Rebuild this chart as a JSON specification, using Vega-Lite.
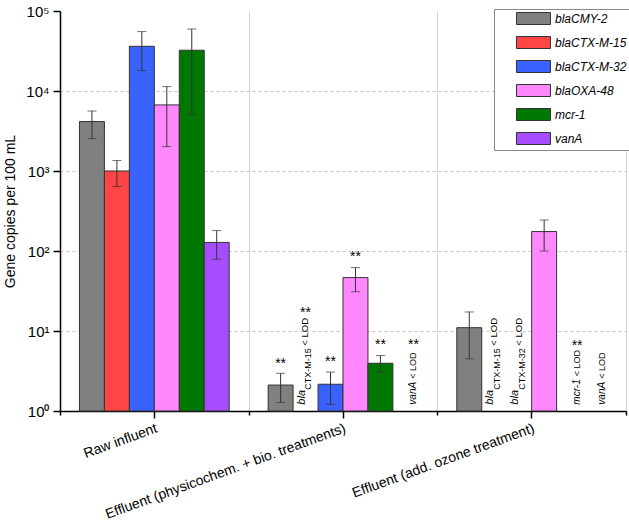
{
  "$schema": "https://vega.github.io/schema/vega-lite/v6.json",
  "width": 566,
  "height": 400,
  "padding": {"left": 3, "top": 4, "right": 0, "bottom": 0},
  "config": {"font": "Liberation Sans", "view": {"stroke": null}},
  "datasets": {
    "bars": [
      {"group": "Raw influent", "gene": "blaCMY-2", "value": 4150, "lo": 2540, "hi": 5620},
      {"group": "Raw influent", "gene": "blaCTX-M-15", "value": 1000, "lo": 640, "hi": 1350},
      {"group": "Raw influent", "gene": "blaCTX-M-32", "value": 36200, "lo": 18000, "hi": 55300},
      {"group": "Raw influent", "gene": "blaOXA-48", "value": 6700, "lo": 2020, "hi": 11350},
      {"group": "Raw influent", "gene": "mcr-1", "value": 32300, "lo": 5070, "hi": 59600},
      {"group": "Raw influent", "gene": "vanA", "value": 128, "lo": 79, "hi": 180},
      {"group": "Effluent (physicochem. + bio. treatments)", "gene": "blaCMY-2", "value": 2.11, "lo": 1.28, "hi": 2.96},
      {"group": "Effluent (physicochem. + bio. treatments)", "gene": "blaCTX-M-32", "value": 2.16, "lo": 1.21, "hi": 3.07},
      {"group": "Effluent (physicochem. + bio. treatments)", "gene": "blaOXA-48", "value": 46.5, "lo": 31, "hi": 62},
      {"group": "Effluent (physicochem. + bio. treatments)", "gene": "mcr-1", "value": 3.95, "lo": 3.05, "hi": 4.93},
      {"group": "Effluent (add. ozone treatment)", "gene": "blaCMY-2", "value": 11.0, "lo": 4.5, "hi": 17.3},
      {"group": "Effluent (add. ozone treatment)", "gene": "blaOXA-48", "value": 175, "lo": 100, "hi": 244}
    ],
    "stars": [
      {"group": "Effluent (physicochem. + bio. treatments)", "gene": "blaCMY-2", "y": 3.92, "type": "bar"},
      {"group": "Effluent (physicochem. + bio. treatments)", "gene": "blaCTX-M-15", "y": 16.9, "type": "bla"},
      {"group": "Effluent (physicochem. + bio. treatments)", "gene": "blaCTX-M-32", "y": 4.12, "type": "bar"},
      {"group": "Effluent (physicochem. + bio. treatments)", "gene": "blaOXA-48", "y": 83, "type": "bar"},
      {"group": "Effluent (physicochem. + bio. treatments)", "gene": "mcr-1", "y": 6.66, "type": "bar"},
      {"group": "Effluent (physicochem. + bio. treatments)", "gene": "vanA", "y": 6.72, "type": "gene"},
      {"group": "Effluent (add. ozone treatment)", "gene": "mcr-1", "y": 6.53, "type": "gene"}
    ],
    "lod": [
      {"group": "Effluent (physicochem. + bio. treatments)", "gene": "blaCTX-M-15", "kind": "bla", "name": "bla", "sub": "CTX-M-15", "y": 1.2},
      {"group": "Effluent (add. ozone treatment)", "gene": "blaCTX-M-15", "kind": "bla", "name": "bla", "sub": "CTX-M-15", "y": 1.2},
      {"group": "Effluent (add. ozone treatment)", "gene": "blaCTX-M-32", "kind": "bla", "name": "bla", "sub": "CTX-M-32", "y": 1.2},
      {"group": "Effluent (add. ozone treatment)", "gene": "mcr-1", "kind": "gene", "name": "mcr-1", "sub": "", "y": 1.2},
      {"group": "Effluent (physicochem. + bio. treatments)", "gene": "vanA", "kind": "gene", "name": "vanA", "sub": "", "y": 1.2},
      {"group": "Effluent (add. ozone treatment)", "gene": "vanA", "kind": "gene", "name": "vanA", "sub": "", "y": 1.2}
    ]
  },
  "layer": [
    {
      "data": {"name": "bars"},
      "mark": {"type": "bar", "stroke": "#333333", "strokeWidth": 1},
      "encoding": {
        "x": {
          "field": "group", "type": "nominal",
          "sort": ["Raw influent", "Effluent (physicochem. + bio. treatments)", "Effluent (add. ozone treatment)"],
          "scale": {"domain": ["Raw influent", "Effluent (physicochem. + bio. treatments)", "Effluent (add. ozone treatment)"], "paddingInner": 0, "paddingOuter": 0},
          "axis": {"title": null, "labelAngle": -20, "labelFontSize": 14, "labelColor": "black", "tickSize": 7, "tickColor": "black", "tickWidth": 1.5, "domainColor": "black", "domainWidth": 1.5, "grid": false, "labelLimit": 400, "labelPadding": 3}
        },
        "xOffset": {
          "field": "gene", "type": "nominal",
          "scale": {"domain": ["blaCMY-2", "blaCTX-M-15", "blaCTX-M-32", "blaOXA-48", "mcr-1", "vanA"], "paddingInner": 0, "paddingOuter": 0.78}
        },
        "y": {
          "field": "value", "type": "quantitative", "stack": null,
          "scale": {"type": "log", "domain": [1, 100000], "nice": false},
          "axis": {
            "title": "Gene copies per 100 mL", "titleFontSize": 14, "titleFontWeight": "normal", "titleColor": "black", "titlePadding": 8,
            "values": [1, 10, 100, 1000, 10000, 100000],
            "labelExpr": "'10' + ['⁰','¹','²','³','⁴','⁵'][round(log(datum.value)/LN10)]",
            "labelFontSize": 15, "labelColor": "black", "labelPadding": 4,
            "tickSize": 7, "tickColor": "black", "tickWidth": 1.5, "domainColor": "black", "domainWidth": 1.5,
            "grid": true, "gridDash": [3, 3], "gridColor": "#c4c4c4",
            "gridOpacity": {"condition": {"test": "datum.value >= 100000", "value": 0}, "value": 1}
          }
        },
        "y2": {"datum": 1},
        "color": {
          "field": "gene", "type": "nominal",
          "scale": {"domain": ["blaCMY-2", "blaCTX-M-15", "blaCTX-M-32", "blaOXA-48", "mcr-1", "vanA"], "range": ["#808080", "#FF4545", "#3A62FF", "#FF88FF", "#007800", "#A64DFF"]},
          "legend": {
            "title": null, "orient": "none", "legendX": 434, "legendY": -2,
            "symbolType": "M2.17,-1H7.83V1H2.17Z", "symbolSize": 144, "symbolStrokeColor": "#333333", "symbolStrokeWidth": 1, "symbolOpacity": 1,
            "labelFontSize": 12, "labelFontStyle": "italic", "labelOffset": 45, "labelColor": "black", "labelLimit": 200,
            "rowPadding": 7, "padding": 3, "strokeColor": "#888888", "fillColor": "white"
          }
        }
      }
    },
    {
      "data": {"name": "bars"},
      "mark": {"type": "rule", "color": "#333333", "strokeWidth": 1},
      "encoding": {
        "x": {"field": "group", "type": "nominal", "axis": null},
        "xOffset": {"field": "gene", "type": "nominal"},
        "y": {"field": "lo", "type": "quantitative"},
        "y2": {"field": "hi"}
      }
    },
    {
      "data": {"name": "bars"},
      "mark": {"type": "tick", "color": "#333333", "size": 9, "thickness": 1, "orient": "horizontal"},
      "encoding": {
        "x": {"field": "group", "type": "nominal", "axis": null},
        "xOffset": {"field": "gene", "type": "nominal"},
        "y": {"field": "lo", "type": "quantitative"}
      }
    },
    {
      "data": {"name": "bars"},
      "mark": {"type": "tick", "color": "#333333", "size": 9, "thickness": 1, "orient": "horizontal"},
      "encoding": {
        "x": {"field": "group", "type": "nominal", "axis": null},
        "xOffset": {"field": "gene", "type": "nominal"},
        "y": {"field": "hi", "type": "quantitative"}
      }
    },
    {
      "data": {"name": "stars"},
      "transform": [{"filter": "datum.type != 'gene'"}],
      "mark": {"type": "text", "text": "**", "fontSize": 14, "color": "black", "baseline": "middle"},
      "encoding": {
        "x": {
          "field": "group", "type": "nominal",
          "axis": {"orient": "bottom", "title": null, "tickBand": "extent", "labels": false, "domain": false, "tickSize": 4, "tickColor": "black", "tickWidth": 1.5, "grid": true, "gridColor": "#d4d4d4", "gridWidth": 1,
            "gridOpacity": {"condition": {"test": "datum.extra", "value": 0}, "value": 1}}
        },
        "xOffset": {"field": "gene", "type": "nominal"},
        "y": {"field": "y", "type": "quantitative"}
      }
    },
    {
      "data": {"name": "stars"},
      "transform": [{"filter": "datum.type == 'gene'"}],
      "mark": {"type": "text", "text": "**", "fontSize": 14, "color": "black", "baseline": "middle", "dx": 8},
      "encoding": {
        "x": {"field": "group", "type": "nominal", "axis": null},
        "xOffset": {"field": "gene", "type": "nominal"},
        "y": {"field": "y", "type": "quantitative"}
      }
    },
    {
      "data": {"name": "lod"},
      "transform": [{"filter": "datum.kind == 'bla'"}],
      "mark": {"type": "text", "angle": 270, "align": "left", "baseline": "alphabetic", "fontSize": 11, "fontStyle": "italic", "color": "black", "dy": -1},
      "encoding": {
        "x": {"field": "group", "type": "nominal", "axis": null},
        "xOffset": {"field": "gene", "type": "nominal"},
        "y": {"field": "y", "type": "quantitative"},
        "text": {"field": "name"}
      }
    },
    {
      "data": {"name": "lod"},
      "transform": [{"filter": "datum.kind == 'bla'"}],
      "mark": {"type": "text", "angle": 270, "align": "left", "baseline": "alphabetic", "fontSize": 9, "color": "black", "dx": 15, "dy": 5.5},
      "encoding": {
        "x": {"field": "group", "type": "nominal", "axis": null},
        "xOffset": {"field": "gene", "type": "nominal"},
        "y": {"field": "y", "type": "quantitative"},
        "text": {"field": "sub"}
      }
    },
    {
      "data": {"name": "lod"},
      "transform": [{"filter": "datum.kind == 'bla'"}],
      "mark": {"type": "text", "angle": 270, "align": "left", "baseline": "alphabetic", "fontSize": 9.5, "color": "black", "dx": 59, "dy": 2.5, "text": "< LOD"},
      "encoding": {
        "x": {"field": "group", "type": "nominal", "axis": null},
        "xOffset": {"field": "gene", "type": "nominal"},
        "y": {"field": "y", "type": "quantitative"}
      }
    },
    {
      "data": {"name": "lod"},
      "transform": [{"filter": "datum.kind == 'gene'"}],
      "mark": {"type": "text", "angle": 270, "align": "left", "baseline": "alphabetic", "fontSize": 10, "fontStyle": "italic", "color": "black", "dy": 11},
      "encoding": {
        "x": {"field": "group", "type": "nominal", "axis": null},
        "xOffset": {"field": "gene", "type": "nominal"},
        "y": {"field": "y", "type": "quantitative"}
        ,"text": {"field": "name"}
      }
    },
    {
      "data": {"name": "lod"},
      "transform": [{"filter": "datum.name == 'mcr-1'"}],
      "mark": {"type": "text", "angle": 270, "align": "left", "baseline": "alphabetic", "fontSize": 9, "color": "black", "dx": 28.5, "dy": 11, "text": "< LOD"},
      "encoding": {
        "x": {"field": "group", "type": "nominal", "axis": null},
        "xOffset": {"field": "gene", "type": "nominal"},
        "y": {"field": "y", "type": "quantitative"}
      }
    },
    {
      "data": {"name": "lod"},
      "transform": [{"filter": "datum.name == 'vanA'"}],
      "mark": {"type": "text", "angle": 270, "align": "left", "baseline": "alphabetic", "fontSize": 9, "color": "black", "dx": 26, "dy": 11, "text": "< LOD"},
      "encoding": {
        "x": {"field": "group", "type": "nominal", "axis": null},
        "xOffset": {"field": "gene", "type": "nominal"},
        "y": {"field": "y", "type": "quantitative"}
      }
    }
  ],
  "resolve": {"axis": {"x": "independent"}}
}
